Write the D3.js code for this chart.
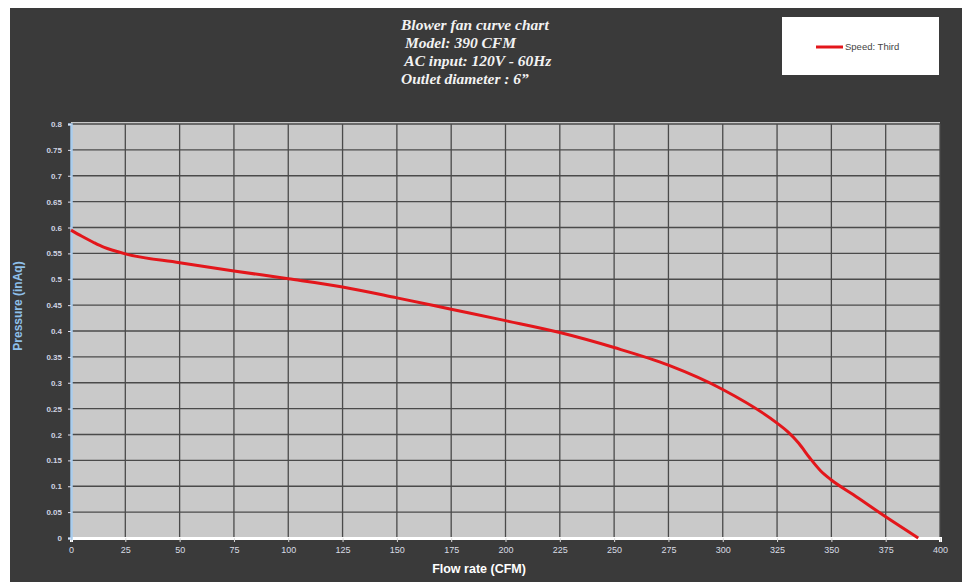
<!DOCTYPE html>
<html>
<head>
<meta charset="utf-8">
<script src="https://cdn.jsdelivr.net/npm/d3@7"></script>
<style>
  body { margin: 0; background: #fff; }
  svg { display: block; }
</style>
</head>
<body>
<div class="chart"></div>
<script>
// data
var flowRate = [0, 5, 10, 15, 20, 25, 50, 75, 100, 125, 150, 175, 200, 225, 250, 275, 300, 325, 330, 335, 340, 345, 350, 360, 375, 390]
var pressure = [0.595, 0.583, 0.572, 0.562, 0.555, 0.549, 0.532, 0.516, 0.501, 0.485, 0.464, 0.442, 0.42, 0.397, 0.368, 0.334, 0.287, 0.222, 0.205, 0.183, 0.155, 0.13, 0.112, 0.084, 0.041, 0]
var xTicks = d3.range(0, 401, 25)
var yTicks = d3.range(0, 0.801, 0.05)
var titleLines = ['Blower fan curve chart', ' Model: 390 CFM', ' AC input: 120V - 60Hz', 'Outlet diameter : 6\u201d']
var seriesName = 'Speed: Third'

var W = 965, H = 585
var margin = {top: 124, right: 25, bottom: 47, left: 71},
width = W - margin.left - margin.right,
height = H - margin.top - margin.bottom;

var svg = d3.select('.chart')
  .append('svg')
    .attr('width', W)
    .attr('height', H)

// dark frame
svg.append('rect')
  .attr('x', 10).attr('y', 8)
  .attr('width', 952).attr('height', 574)
  .attr('fill', '#3a3a3a')

var g = svg.append('g')
  .attr('transform', 'translate(' + margin.left + ',' + margin.top + ')')

var x = d3.scaleLinear().domain([0, 400]).range([0, width])
var y = d3.scaleLinear().domain([0, 0.8]).range([height, 0])

// plot area
g.append('rect')
  .attr('x', 0).attr('y', -2)
  .attr('width', width).attr('height', height + 2)
  .attr('fill', '#c9c9c9')

// grid
g.append('g').selectAll('line')
  .data(yTicks.slice(1))
  .join('line')
    .attr('x1', 0).attr('x2', width)
    .attr('y1', d => y(d)).attr('y2', d => y(d))
    .attr('stroke', '#4a4a4a').attr('stroke-width', 1.3)

g.append('g').selectAll('line')
  .data(xTicks.slice(1))
  .join('line')
    .attr('y1', 0).attr('y2', height)
    .attr('x1', d => x(d)).attr('x2', d => x(d))
    .attr('stroke', '#4a4a4a').attr('stroke-width', 1.3)

// axes
var xAxis = g.append('g')
  .attr('transform', 'translate(0,' + height + ')')
  .call(d3.axisBottom(x).tickValues(xTicks).tickSize(4).tickPadding(5))
xAxis.select('.domain').attr('stroke', '#fff').attr('stroke-width', 3)
xAxis.selectAll('.tick line').attr('stroke', '#ddd')
xAxis.selectAll('text').attr('fill', '#d8dce4').style('font', '9px Arial')

var yAxis = g.append('g')
  .call(d3.axisLeft(y).tickValues(yTicks).tickSize(3).tickPadding(6).tickFormat(d => +d.toFixed(2)))
yAxis.select('.domain').attr('stroke', '#a9cdee').attr('stroke-width', 2.5)
yAxis.selectAll('.tick line').attr('stroke', '#dde')
yAxis.selectAll('text').attr('fill', '#d0d4e2').style('font', 'bold 8px Arial')

// curve
var pts = flowRate.map((f, i) => [f, pressure[i]])
g.append('path')
  .datum(pts)
  .attr('fill', 'none')
  .attr('stroke', '#e3161b')
  .attr('stroke-width', 3)
  .attr('d', d3.line()
    .x(d => x(d[0]))
    .y(d => y(d[1]))
    .curve(d3.curveMonotoneX))

// axis labels
svg.append('text')
  .attr('x', 479).attr('y', 573)
  .attr('text-anchor', 'middle')
  .attr('fill', '#fff')
  .style('font', 'bold 12.5px Arial')
  .text('Flow rate (CFM)')

svg.append('text')
  .attr('transform', 'translate(22,306) rotate(-90)')
  .attr('text-anchor', 'middle')
  .attr('fill', '#8fc0ea')
  .style('font', 'bold 12px Arial')
  .text('Pressure (inAq)')

// title
svg.append('g').selectAll('text')
  .data(titleLines)
  .join('text')
    .attr('x', 401)
    .attr('y', (d, i) => 30 + i * 18)
    .attr('fill', '#f2f2f2')
    .attr('xml:space', 'preserve')
    .style('font', 'italic bold 15.5px "Liberation Serif", "Times New Roman", serif')
    .text(d => d)

// legend
svg.append('rect')
  .attr('x', 782).attr('y', 17)
  .attr('width', 157).attr('height', 58)
  .attr('fill', '#fff')
svg.append('line')
  .attr('x1', 816).attr('x2', 843)
  .attr('y1', 47).attr('y2', 47)
  .attr('stroke', '#e3161b').attr('stroke-width', 3)
svg.append('text')
  .attr('x', 845).attr('y', 50)
  .attr('fill', '#444')
  .style('font', '9.5px Arial')
  .text(seriesName)
</script>
</body>
</html>
